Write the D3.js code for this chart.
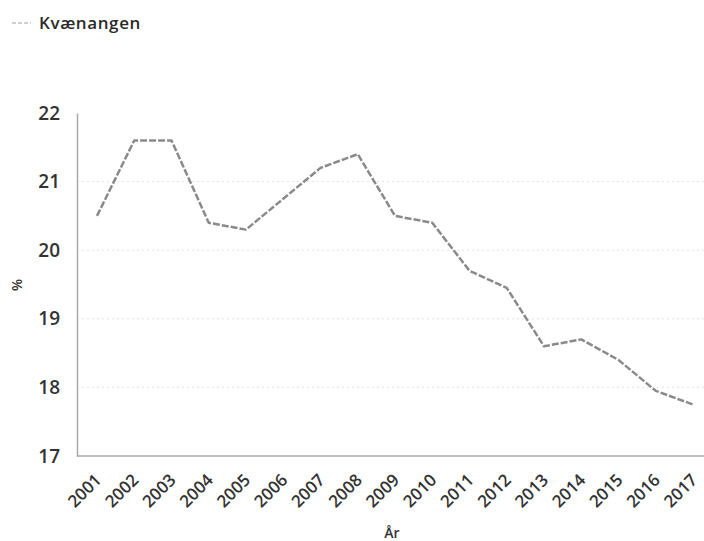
<!DOCTYPE html>
<html>
<head>
<meta charset="utf-8">
<script src="https://cdn.jsdelivr.net/npm/d3@7"></script>
<style>
  body { margin: 0; background: #fff; }
  svg { font-family: "Open Sans", sans-serif; }
</style>
</head>
<body>
<svg id="chart" width="704" height="541"></svg>
<script>
const seriesName = 'Kvænangen';
const years = [2001, 2002, 2003, 2004, 2005, 2006, 2007, 2008, 2009, 2010, 2011, 2012, 2013, 2014, 2015, 2016, 2017];
const values = [20.5, 21.6, 21.6, 20.4, 20.3, 20.75, 21.2, 21.4, 20.5, 20.4, 19.7, 19.45, 18.6, 18.7, 18.4, 17.95, 17.75];
const yTicks = [17, 18, 19, 20, 21, 22];

const svg = d3.select('#chart');
const plotLeft = 77, plotRight = 704, plotTop = 113, plotBottom = 456;

const x = d3.scaleLinear().domain([2001, 2017]).range([97, 693]);
const y = d3.scaleLinear().domain([17, 22]).range([plotBottom, plotTop]);

// faint dotted gridlines
svg.append('g').selectAll('line').data(yTicks.slice(1, -1)).join('line')
    .attr('x1', plotLeft).attr('x2', plotRight)
    .attr('y1', d => y(d)).attr('y2', d => y(d))
    .attr('stroke', '#e2e2e2').attr('stroke-width', 1).attr('stroke-dasharray', '2,3');

// y axis
const yAxis = svg.append('g').attr('transform', `translate(${plotLeft},0)`)
    .call(d3.axisLeft(y).tickValues(yTicks).tickSize(0).tickPadding(17).tickFormat(d3.format('d')));
yAxis.select('.domain').attr('stroke', '#aaa').attr('stroke-width', 1.5);
yAxis.selectAll('text').attr('font-size', 19).attr('font-weight', 600).attr('fill', '#333')
    .attr('font-family', '"Open Sans", sans-serif');

// x axis
const xAxis = svg.append('g').attr('transform', `translate(0,${plotBottom})`)
    .call(d3.axisBottom(x).tickValues(years).tickSize(0).tickFormat(d3.format('d')));
xAxis.select('.domain').attr('d', `M${plotLeft},0H${plotRight}`).attr('stroke', '#aaa').attr('stroke-width', 1.5);
xAxis.selectAll('text')
    .attr('font-size', 17).attr('font-weight', 600).attr('fill', '#333')
    .attr('font-family', '"Open Sans", sans-serif')
    .attr('text-anchor', 'end')
    .attr('dy', 0).attr('y', 0)
    .attr('transform', 'translate(5,25) rotate(-45)');

// axis titles
svg.append('text').attr('transform', 'translate(22,285) rotate(-90)')
    .attr('text-anchor', 'middle').attr('font-size', 14).attr('font-weight', 600).attr('fill', '#333')
    .text('%');
svg.append('text').attr('x', 392).attr('y', 538)
    .attr('text-anchor', 'middle').attr('font-size', 14).attr('font-weight', 600).attr('fill', '#333')
    .text('År');

// line
const line = d3.line().x((d, i) => x(years[i])).y(d => y(d));
svg.append('path').datum(values)
    .attr('d', line)
    .attr('fill', 'none').attr('stroke', '#8a8a8a').attr('stroke-width', 2.5)
    .attr('stroke-dasharray', '7,2').attr('stroke-linejoin', 'round');

// legend
svg.append('line').attr('x1', 12).attr('x2', 31).attr('y1', 23).attr('y2', 23)
    .attr('stroke', '#cfcfcf').attr('stroke-width', 2).attr('stroke-dasharray', '4,2');
svg.append('text').attr('x', 39).attr('y', 29)
    .attr('font-size', 17).attr('font-weight', 600).attr('fill', '#2a2a2a')
    .attr('letter-spacing', 0.6)
    .text(seriesName);
</script>
</body>
</html>
